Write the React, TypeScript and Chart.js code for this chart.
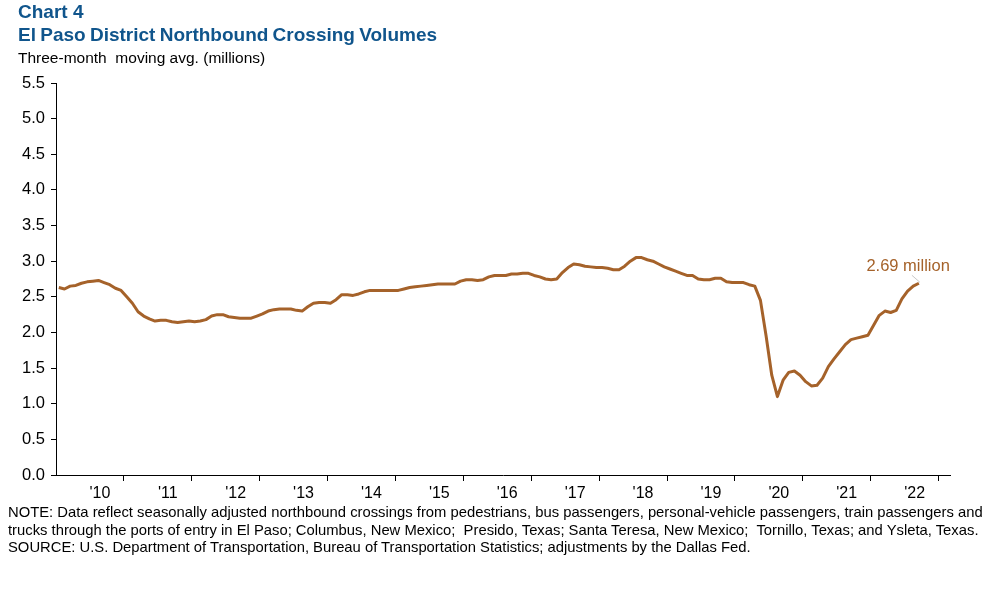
import React, { useEffect, useRef } from "react";
import { Chart, registerables } from "chart.js";

Chart.register(...registerables);

// Monthly three-month moving average, millions of northbound crossings
const VALUES: number[] = [
  2.63, 2.61, 2.65, 2.66, 2.69, 2.71, 2.72, 2.73, 2.70, 2.67,
  2.62, 2.59, 2.50, 2.41, 2.29, 2.23, 2.19, 2.16, 2.17, 2.17,
  2.15, 2.14, 2.15, 2.16, 2.15, 2.16, 2.18, 2.23, 2.25, 2.25,
  2.22, 2.21, 2.20, 2.20, 2.20, 2.23, 2.26, 2.30, 2.32, 2.33,
  2.33, 2.33, 2.31, 2.30, 2.36, 2.41, 2.42, 2.42, 2.41, 2.46,
  2.53, 2.53, 2.52, 2.54, 2.57, 2.59, 2.59, 2.59, 2.59, 2.59,
  2.59, 2.61, 2.63, 2.64, 2.65, 2.66, 2.67, 2.68, 2.68, 2.68,
  2.68, 2.72, 2.74, 2.74, 2.73, 2.74, 2.78, 2.80, 2.80, 2.80,
  2.82, 2.82, 2.83, 2.83, 2.80, 2.78, 2.75, 2.74, 2.75, 2.84,
  2.91, 2.96, 2.95, 2.93, 2.92, 2.91, 2.91, 2.90, 2.88, 2.88,
  2.93, 3.00, 3.05, 3.05, 3.02, 3.00, 2.96, 2.92, 2.89, 2.86,
  2.83, 2.80, 2.80, 2.75, 2.74, 2.74, 2.76, 2.76, 2.71, 2.70,
  2.70, 2.70, 2.67, 2.65, 2.45, 1.95, 1.40, 1.10, 1.33, 1.44,
  1.46, 1.40, 1.31, 1.25, 1.26, 1.36, 1.52, 1.63, 1.73, 1.83,
  1.90, 1.92, 1.94, 1.96, 2.10, 2.24, 2.30, 2.28, 2.31, 2.47,
  2.58, 2.65, 2.69,
];
// Year labels on the category axis
const YEAR_LABELS = ["'10", "'11", "'12", "'13", "'14", "'15", "'16", "'17", "'18", "'19", "'20", "'21", "'22"];
const FIRST_LABEL_POS = 7.75; // category position of the "'10" label
const TOTAL_CATEGORIES = 158; // axis length incl. blank months
const TICK_EVERY = 12;
const Y_MIN = 0;
const Y_MAX = 5.5;
const Y_STEP = 0.5;

const FONT = "'Liberation Sans', Arial, Helvetica, sans-serif";
const LINE_COLOR = "#A5622A";
const TITLE_COLOR = "#10558C";

const endLabelPlugin = {
  id: "endLabel",
  afterDatasetsDraw(chart: any) {
    const meta = chart.getDatasetMeta(0);
    const pts = meta.data;
    if (!pts || !pts.length) return;
    const p = pts[pts.length - 1];
    const ctx = chart.ctx;
    ctx.save();
    ctx.strokeStyle = "#C8C8C8";
    ctx.lineWidth = 1;
    ctx.beginPath();
    ctx.moveTo(p.x - 7, p.y - 8);
    ctx.lineTo(p.x + 1, p.y - 1);
    ctx.stroke();
    ctx.fillStyle = LINE_COLOR;
    ctx.font = `16.5px ${FONT}`;
    ctx.textAlign = "right";
    ctx.textBaseline = "alphabetic";
    ctx.fillText(`${VALUES[VALUES.length - 1].toFixed(2)} million`, p.x + 31, p.y - 12);
    ctx.restore();
  },
};

export default function App() {
  const ref = useRef<HTMLCanvasElement | null>(null);

  useEffect(() => {
    if (!ref.current) return;
    const tickValues: number[] = [];
    for (let v = TICK_EVERY; v <= TOTAL_CATEGORIES; v += TICK_EVERY) tickValues.push(v);
    const labelValues = YEAR_LABELS.map((_, k) => FIRST_LABEL_POS + k * 12);
    const allTicks = [...tickValues, ...labelValues].sort((a, b) => a - b);

    const chart = new Chart(ref.current, {
      type: "line",
      data: {
        datasets: [
          {
            data: VALUES.map((v, i) => ({ x: i + 0.5, y: v })),
            borderColor: LINE_COLOR,
            borderWidth: 3,
            pointRadius: 0,
            tension: 0,
            borderJoinStyle: "round",
            fill: false,
          },
        ],
      },
      options: {
        animation: false,
        responsive: false,
        events: [],
        layout: { padding: { left: 0, right: 47, top: 83, bottom: 0 } },
        plugins: { legend: { display: false }, tooltip: { enabled: false } },
        scales: {
          x: {
            type: "linear",
            min: 0,
            max: TOTAL_CATEGORIES,
            afterBuildTicks: (s: any) => {
              s.ticks = allTicks.map((v) => ({ value: v }));
            },
            afterFit: (s: any) => {
              s.height = 114;
            },
            grid: {
              drawOnChartArea: false,
              drawTicks: true,
              tickLength: 6,
              lineWidth: 1,
              color: (c: any) =>
                c.tick && Number.isInteger(c.tick.value) ? "#000000" : "rgba(0,0,0,0)",
            },
            border: { display: true, color: "#000000", width: 1 },
            ticks: {
              autoSkip: false,
              maxRotation: 0,
              minRotation: 0,
              padding: 3,
              color: "#000000",
              font: { family: FONT, size: 16 },
              callback: (value: any) => {
                const k = (Number(value) - FIRST_LABEL_POS) / 12;
                return Number.isInteger(k) && YEAR_LABELS[k] ? YEAR_LABELS[k] : "";
              },
            },
          },
          y: {
            min: Y_MIN,
            max: Y_MAX,
            afterFit: (s: any) => {
              s.width = 56;
            },
            grid: { drawOnChartArea: false, drawTicks: true, tickLength: 5, color: "#000000" },
            border: { display: true, color: "#000000", width: 1 },
            ticks: {
              stepSize: Y_STEP,
              padding: 6,
              color: "#000000",
              font: { family: FONT, size: 16.5 },
              callback: (v: any) => Number(v).toFixed(1),
            },
          },
        },
      },
      plugins: [endLabelPlugin],
    } as any);
    return () => chart.destroy();
  }, []);

  const noteStyle: React.CSSProperties = {
    position: "absolute",
    left: 8,
    fontSize: 14.8,
    lineHeight: "17px",
    whiteSpace: "pre",
    color: "#000",
  };

  return (
    <div
      style={{
        position: "absolute",
        left: 0,
        top: 0,
        width: 997,
        height: 589,
        background: "#fff",
        fontFamily: FONT,
        overflow: "hidden",
      }}
    >
      <canvas ref={ref} width={997} height={589} style={{ position: "absolute", left: 0, top: 0 }} />
      <div style={{ position: "absolute", left: 18, top: 1, fontSize: 19, lineHeight: "21px", fontWeight: "bold", color: TITLE_COLOR, whiteSpace: "nowrap" }}>
        Chart 4
      </div>
      <div style={{ position: "absolute", left: 18, top: 24, fontSize: 19, lineHeight: "21px", fontWeight: "bold", color: TITLE_COLOR, whiteSpace: "nowrap", wordSpacing: -1 }}>
        El Paso District Northbound Crossing Volumes
      </div>
      <div style={{ position: "absolute", left: 18, top: 49, fontSize: 15.5, lineHeight: "18px", color: "#000", whiteSpace: "pre" }}>
        Three-month  moving avg. (millions)
      </div>
      <div style={{ ...noteStyle, top: 504 }}>
        NOTE: Data reflect seasonally adjusted northbound crossings from pedestrians, bus passengers, personal-vehicle passengers, train passengers and
      </div>
      <div style={{ ...noteStyle, top: 522 }}>
        trucks through the ports of entry in El Paso; Columbus, New Mexico;  Presido, Texas; Santa Teresa, New Mexico;  Tornillo, Texas; and Ysleta, Texas.
      </div>
      <div style={{ ...noteStyle, top: 539 }}>
        SOURCE: U.S. Department of Transportation, Bureau of Transportation Statistics; adjustments by the Dallas Fed.
      </div>
    </div>
  );
}
